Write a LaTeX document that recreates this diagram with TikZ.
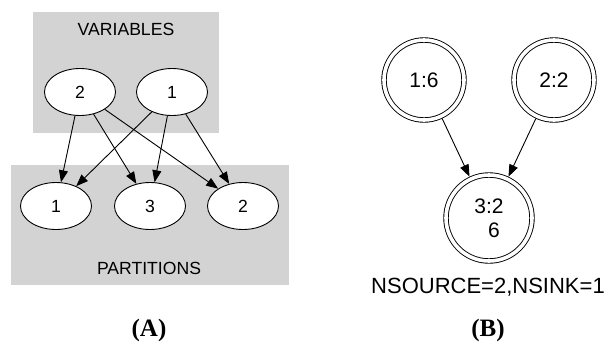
\documentclass[tikz,border=0pt]{standalone}
\usepackage{fontspec}
\setsansfont{Liberation Sans}
\newfontfamily\panelfont{Liberation Serif}
\usetikzlibrary{arrows.meta,shapes.geometric,positioning}
\definecolor{ClusterGray}{HTML}{D3D3D3}
\tikzset{
  every node/.style={font=\sffamily},
  cluster/.style={fill=ClusterGray},
  clusterlabel/.style={font=\sffamily\fontsize{17.6}{20}\selectfont},
  varnode/.style={ellipse, draw, line width=0.9pt, fill=white, minimum width=71pt, minimum height=47pt, inner sep=0pt, font=\sffamily\fontsize{17.6}{20}\selectfont},
  statenode/.style={circle, draw, line width=0.9pt, double, double distance=3.6pt, fill=white, inner sep=0pt, outer sep=2.7pt, align=center, font=\sffamily\fontsize{21}{24}\selectfont},
  link/.style={-{Triangle[length=12pt,width=9pt]}, line width=0.9pt},
  panel/.style={font=\panelfont\bfseries\fontsize{25}{27}\selectfont},
}

\begin{document}
\begin{tikzpicture}[x=1pt,y=-1pt]
  \useasboundingbox (0,0) rectangle (611,346);
  % (A) variables and partitions
  \fill[cluster] (33,12) rectangle (219,133);
  \fill[cluster] (11,165) rectangle (289,285);
  \node[clusterlabel] (varlabel) at (126,29) {VARIABLES};
  \node[clusterlabel] (partlabel) at (149,268) {PARTITIONS};
  \node[varnode] (v2) at (80,92) {2};
  \node[varnode] (v1) at (172,92) {1};
  \node[varnode] (p1) at (56,206) {1};
  \node[varnode] (p3) at (150,206) {3};
  \node[varnode] (p2) at (243,206) {2};
  \foreach \src in {v2,v1}
    \foreach \dst in {p1,p3,p2}
      \draw[link] (\src) -- (\dst);
  \node[panel] (capA) at (149,330) {(A)};
  % (B) source / sink graph
  \node[statenode, minimum size=80pt] (s16) at (424,80) {1:6};
  \node[statenode, minimum size=80pt] (s22) at (554,80) {2:2};
  \node[statenode, minimum size=86pt] (s32) at (489,218) {3:2\\\hspace*{10pt}6};
  \draw[link] (s16) -- (s32);
  \draw[link] (s22) -- (s32);
  \node[font=\sffamily\fontsize{22}{24}\selectfont] (counts) at (488,287) {NSOURCE=2,NSINK=1};
  \node[panel] (capB) at (488,330) {(B)};
\end{tikzpicture}
\end{document}
